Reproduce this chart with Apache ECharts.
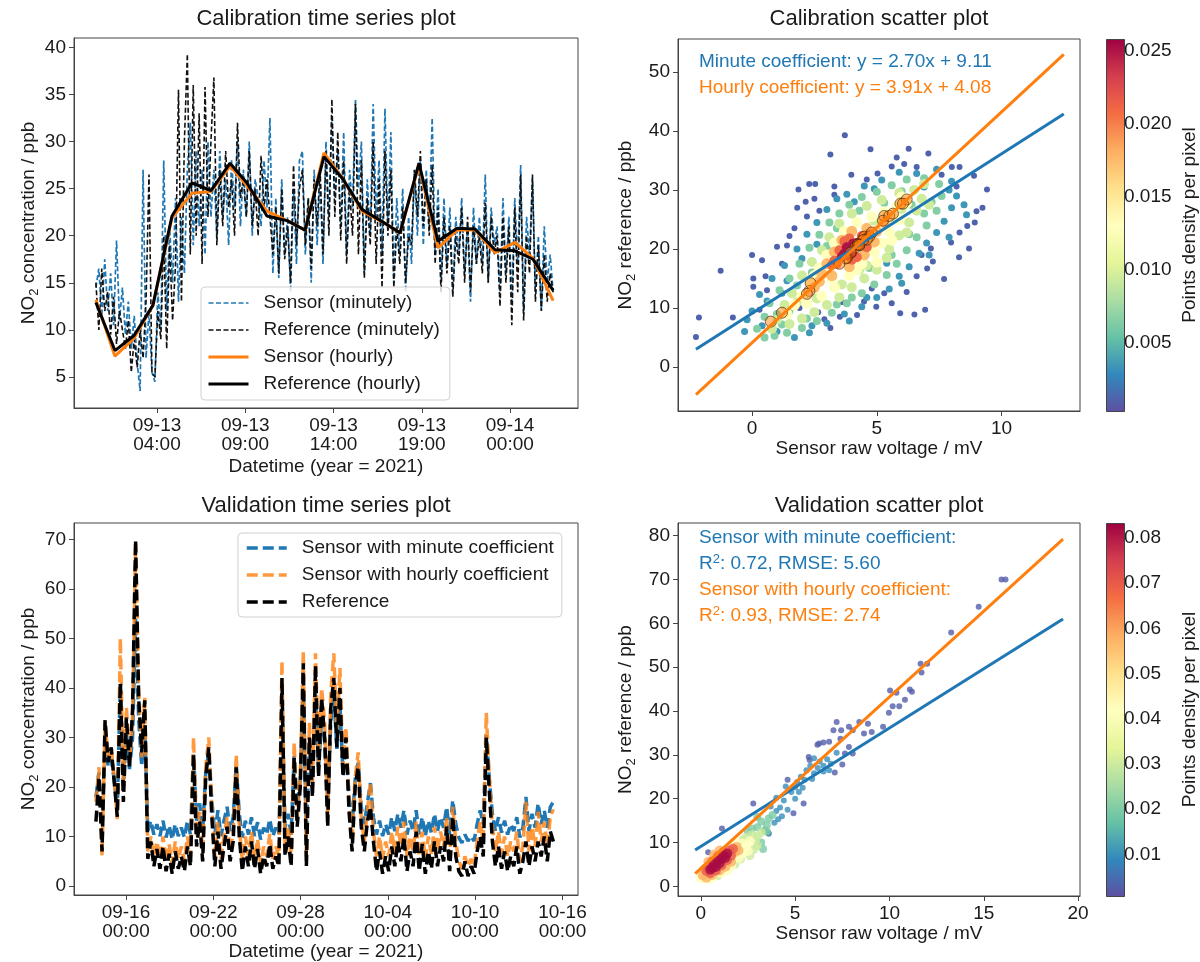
<!DOCTYPE html>
<html>
<head>
<meta charset="utf-8">
<script src="https://cdn.jsdelivr.net/npm/echarts@6.0.0/dist/echarts.min.js"></script>
<style>
  html, body { margin: 0; background: #fff; }
  #chart { width: 1200px; height: 962px; }
</style>
</head>
<body>
<div id="chart"></div>
<script>
// ---- calibration time series (hours since 09-13 00:00) ----
const calTickHours = [4, 9, 14, 19, 24]
const calTickLabels = ['09-13\n04:00', '09-13\n09:00', '09-13\n14:00', '09-13\n19:00', '09-14\n00:00']
const calMinStart = 0.54   // first 10-min sample
const calMinStep = 0.1671  // hours between samples
const calSensorMin = [
  14.5, 16.5, 11.5, 17.5, 12, 16, 10.5, 19.5, 11, 14.5,
  9.5, 13, 8, 11.5, 6.5, 3.5, 27, 7, 12, 5.5,
  4.5, 14, 10, 28, 12, 21, 15, 24, 13, 22,
  16, 27, 32, 19, 29, 21, 27, 18, 30, 22,
  27, 20, 29, 22, 26, 19, 28, 23, 30, 21,
  27, 22, 30, 20, 26, 24, 21, 28, 23, 32.5,
  16, 24, 15.5, 26, 18, 22, 14, 25, 17, 28,
  29, 18, 24, 15, 27, 19, 26, 17, 30, 22,
  32.5, 24, 29, 21, 31, 18, 27, 23, 34.5, 25,
  30, 16, 26, 20, 34, 22, 28, 18, 33.5, 21,
  31, 15, 24, 18, 25, 14, 22, 17, 27, 20,
  28, 19, 27, 21, 32.5, 18, 25, 15, 24, 17,
  23, 14, 22, 18, 24, 16, 21, 13, 23, 17,
  22, 17, 26.5, 15, 23, 19, 21, 14, 24, 16,
  22, 13, 24, 17, 27.5, 12, 22, 18, 26, 14,
  20, 12, 21, 15, 18, 14
]
const calRefMin = [
  15, 10, 16.5, 12, 14, 9.5, 13.5, 8.5, 12, 10,
  8, 11, 5.5, 9, 6, 10, 7, 13, 26.5, 5.5,
  5, 12, 9, 20, 8, 19, 11, 17, 35.5, 13,
  30, 39.3, 18, 36, 20, 33, 17, 35.8, 22, 30,
  36.8, 19, 27, 21, 29, 23, 26, 20, 32, 24,
  26, 22, 29, 21, 25, 20, 28.5, 23, 26, 22,
  18, 23, 16, 25, 17.5, 21, 15, 27.5, 19, 25,
  27, 19, 24, 16.5, 26, 21, 27, 18, 29, 20,
  34.5, 22, 31, 19.5, 28, 17, 25, 20, 34, 18,
  28, 15.5, 24, 19, 30, 17, 26, 14.5, 29, 20,
  27, 14.5, 21, 17, 23, 15, 20, 19, 27, 22,
  29, 21, 26, 20, 27.5, 17, 23, 14, 22, 16,
  21, 13.5, 20, 17, 23, 15, 22, 14, 21, 17,
  20, 16, 23.5, 15, 22, 18, 20, 12.5, 22, 15,
  21, 10.5, 23, 14, 26.5, 11, 20, 16, 26.5, 13,
  19, 12, 18, 13, 16, 14
]
const calHourX = [0.54, 1.62, 2.70, 3.77, 4.85, 5.98, 7.06, 8.14, 9.10, 10.23, 11.37, 12.39, 13.46,
  14.54, 15.61, 16.75, 17.77, 18.84, 19.92, 21.00, 22.02, 23.15, 24.28, 25.30, 26.44]
const calSensorHour = [13.2, 7.2, 9.1, 12.6, 21.9, 24.5, 24.7, 27.4, 25.3, 22.6, 21.6, 20.6, 28.8,
  26.0, 22.6, 21.5, 20.3, 27.5, 18.7, 20.6, 20.6, 18.2, 19.3, 17.6, 13.1]
const calRefHour = [12.9, 7.8, 9.4, 12.6, 22.1, 25.6, 24.8, 27.7, 25.6, 22.1, 21.6, 20.6, 28.4,
  26.0, 22.8, 21.5, 20.3, 27.7, 19.4, 20.8, 20.7, 18.5, 18.4, 17.5, 14.2]

// ---- calibration scatter: points grouped by density band ----
const calBandDensity = [0.0012, 0.0035, 0.0065, 0.0095, 0.013, 0.0175, 0.021, 0.025]
const calPurple = [[-2.25,5.1],[-2.13,8.4],[-1.26,16.3],[-0.77,8.4],[0.0,19.0],[0.05,13.6],[0.05,15.0],[0.4,18.1],
  [0.54,15.4],[1.0,20.4],[1.86,30.1],[2.29,31.0],[2.53,31.0],[2.5,28.5],[2.15,28.0],[1.81,27.0],[3.14,36.0],
  [3.72,39.3],[4.75,36.9],[6.28,37.0],[7.07,36.2],[6.1,34.4],[3.98,32.6],[5.03,32.8],[8.01,33.9],[8.32,33.9],
  [8.9,32.4],[9.42,30.1],[9.24,27.0],[8.93,24.5],[8.63,23.9],[8.32,22.8],[7.98,21.1],[8.7,20.1],[7.17,20.1],
  [7.25,17.9],[7.02,16.7],[6.94,9.7],[6.51,8.9],[5.94,9.1],[4.98,10.2],[4.49,11.1],[4.21,8.8],[3.52,8.5],
  [3.14,6.6],[2.65,9.3],[0.6,13.0],[1.4,20.6],[1.7,23.5],[2.2,25.5],[3.3,30.6],[4.6,31.8],[5.6,34.0],[6.6,33.9],
  [7.6,32.6],[8.2,30.6],[9.0,26.4],[8.3,18.6],[7.7,14.9],[6.6,15.4],[6.2,12.7],[5.6,10.8],[4.8,13.3],[3.6,11.0],
  [2.9,8.1],[1.9,10.0],[0.3,9.7],[1.2,17.5],[2.7,26.5],[5.8,35.5],[6.8,19.0],[5.3,12.5],[3.3,29.2],[1.5,22.2]]
const calBlue = [[-0.3,6.0],[0.0,9.5],[0.3,12.3],[0.8,15.0],[1.3,17.2],[1.8,20.0],[2.2,22.5],[2.6,24.5],[3.0,26.7],
  [3.4,28.5],[3.8,29.3],[4.5,30.7],[5.2,31.7],[5.9,33.0],[6.6,32.8],[7.4,33.5],[8.0,31.5],[8.2,29.0],[8.0,27.0],
  [7.7,24.7],[7.4,22.8],[7.0,21.0],[6.7,19.3],[6.3,17.0],[5.9,15.4],[5.5,13.2],[5.0,11.8],[4.4,10.2],[3.7,9.0],
  [3.0,7.4],[2.3,5.8],[1.7,5.0],[8.5,27.5],[8.6,25.8],[7.9,22.0],[2.6,20.8],[1.2,12.5],[-0.2,8.0],[1.0,6.0],
  [4.1,28.0],[6.9,30.5],[5.4,17.6],[0.4,7.0],[1.4,14.6],[2.0,18.4],[4.9,30.2],[7.9,30.0],[7.1,19.0],[6.0,14.2],
  [4.6,11.8],[3.9,7.8],[2.4,7.0],[0.6,11.2]]
const calTeal = [[0.2,6.5],[0.5,8.5],[0.7,10.8],[1.1,13.0],[1.5,15.0],[1.9,17.5],[2.3,20.2],[2.7,22.4],[3.1,24.5],
  [3.5,26.0],[3.9,27.5],[4.4,28.8],[5.0,29.7],[5.6,30.8],[6.2,31.8],[6.9,32.0],[7.5,31.0],[7.6,29.0],[7.4,26.5],
  [7.0,24.0],[6.6,22.0],[6.2,19.8],[5.8,17.5],[5.4,15.6],[4.9,14.0],[4.4,12.5],[3.8,10.8],[3.2,9.2],[2.6,7.8],
  [2.0,6.6],[1.4,5.8],[0.9,5.3],[0.5,5.0],[1.5,9.5],[2.1,11.5],[7.2,28.0],[6.4,27.5],[3.0,20.5],
  [1.0,9.0],[1.8,13.8],[2.4,16.0],[3.4,23.5],[4.3,26.5],[5.3,27.8],[6.0,29.8],[6.9,26.0],[6.3,22.5],[5.6,19.0],
  [4.7,16.8],[4.0,11.8],[3.4,10.6],[2.2,8.2],[1.2,7.2]]
const calGreen = [[1.0,8.0],[1.3,10.5],[1.6,12.5],[2.0,15.5],[2.4,17.8],[2.8,19.8],[3.1,22.0],[3.5,24.3],[4.0,26.0],
  [4.6,27.3],[5.2,28.3],[5.9,29.5],[6.5,30.0],[6.8,28.5],[6.6,26.5],[6.3,24.5],[5.9,22.3],[5.5,20.0],[5.0,16.5],
  [4.5,15.0],[4.0,13.5],[3.5,11.8],[3.0,10.5],[2.5,9.3],[2.0,8.2],[1.5,7.3],[0.8,6.5],[6.9,31.0],[7.1,27.5],
  [6.0,26.8],[5.6,25.5],[4.3,16.5],[1.8,11.0],[2.6,14.5],[3.2,18.5],[3.8,21.5],[4.9,24.8],[6.2,28.0],[6.2,22.8],
  [5.4,18.5],[4.6,17.2],[3.6,14.0],[2.6,11.6]]
const calYellow = [[2.0,12.0],[2.3,14.6],[2.7,16.8],[3.0,19.0],[3.3,21.0],[3.7,23.0],[4.2,24.5],[4.8,25.5],[5.3,26.3],
  [5.8,27.2],[5.9,25.0],[5.5,23.0],[5.2,21.0],[4.9,19.5],[4.4,17.5],[3.9,15.5],[3.3,13.5],[2.8,12.0],[2.2,10.8],
  [1.7,10.5],[6.2,27.8],[5.0,17.8],[1.4,9.0],[6.0,28.8],[2.5,15.5],[3.5,20.0],[4.5,22.0],[5.5,25.8],[4.2,16.5],
  [3.2,15.0],[5.6,21.5]]
const calOrange = [[2.8,15.8],[3.0,17.5],[3.3,19.5],[3.6,21.5],[4.0,23.0],[4.6,23.5],[5.0,23.0],[4.9,21.2],[4.5,19.0],
  [3.9,17.0],[3.2,15.5],[2.7,14.5],[5.3,24.5],[2.5,13.5]]
const calRed = [[3.3,18.0],[3.5,19.8],[4.5,21.6],[4.6,20.3],[3.4,17.5],[4.4,22.2],[3.7,21.3],[4.2,18.6],[3.2,17.3],
  [4.7,22.5],[3.9,21.8],[4.0,18.2]]
const calCore = [[3.7,19.2],[3.9,19.8],[4.1,20.4],[3.8,20.3],[4.0,19.3],[4.2,21.0],[3.6,18.7],[4.3,20.6],[3.85,18.9],[4.05,20.9]]
const calHourlyPts = [[2.3,12.9],[0.75,7.7],[1.2,9.2],[2.2,12.4],[4.5,22.1],[5.3,25.6],[5.25,24.8],[5.95,27.7],[5.5,25.6],
  [4.7,22.1],[4.6,21.6],[4.3,20.6],[6.2,28.4],[5.65,26.0],[4.8,22.8],[4.45,21.5],[4.15,20.3],[6.05,27.7],[3.95,19.4],
  [4.25,20.8],[4.3,20.7],[3.8,18.5],[3.75,18.4],[3.5,17.5],[2.35,14.2]]
const calMinuteLine = [[-2.25, 3.0], [12.5, 42.9]]
const calHourlyLine = [[-2.25, -4.7], [12.5, 53.0]]

// ---- validation time series (days since 09-16 00:00) ----
const valTickDays = [0, 6, 12, 18, 24, 30]
const valTickLabels = ['09-16\n00:00', '09-22\n00:00', '09-28\n00:00', '10-04\n00:00', '10-10\n00:00', '10-16\n00:00']
const valStart = -2.062
const valStep = 0.2096
const valMinuteCoef = [
  18, 22.9, 10.4, 29.1, 24.2, 25.6, 21.5, 15.6, 40.8, 20.1,
  31.1, 23.6, 29.8, 53.9, 33.9, 24.2, 32.5, 11.1, 13.2, 10.4,
  12.5, 10.1, 13.2, 9.8, 12.2, 9.4, 12.5, 10.1, 11.8, 9.8,
  13.2, 10.4, 27, 13.2, 16.7, 11.1, 22.9, 27, 17.3, 10.4,
  15.3, 10.1, 13.2, 16, 11.1, 13.9, 24.6, 14.6, 9.8, 13.2,
  10.4, 13.9, 10.1, 12.9, 9.4, 11.8, 10.4, 13.5, 10.1, 11.8,
  10.4, 37.7, 11.8, 14.6, 10.4, 26.3, 16, 21.5, 39.1, 10.4,
  29.1, 20.1, 38.7, 23.6, 33.9, 29.1, 16, 33.2, 38.7, 27.7,
  36.7, 22.9, 28.4, 18, 12.5, 21.5, 24.9, 16, 12.5, 16.7,
  20.8, 13.9, 10.4, 13.2, 10.1, 12.5, 10.4, 13.9, 11.1, 14.6,
  11.8, 15.3, 10.4, 13.2, 11.1, 15.3, 10.4, 13.9, 10.1, 13.2,
  10.8, 14.6, 11.1, 13.9, 11.8, 16, 10.4, 17.3, 12.5, 9.8,
  8.7, 10.4, 9.1, 10.1, 9.1, 12.5, 15.3, 12.5, 30.5, 21.5,
  14.6, 11.1, 13.9, 10.8, 13.2, 10.4, 12.5, 11.1, 13.9, 9.8,
  11.8, 18, 11.1, 14.6, 11.8, 16.7, 12.5, 15.3, 11.8, 16,
  17
]
const valHourlyCoef = [
  17, 24, 6, 33, 26, 28, 22, 13.5, 50, 20,
  36, 25, 34, 69, 40, 26, 38, 7, 10, 6,
  9, 5.5, 10, 5, 8.5, 4.5, 9, 5.5, 8, 5,
  10, 6, 30, 10, 15, 7, 24, 30, 16, 6,
  13, 5.5, 10, 14, 7, 11, 26.5, 12, 5, 10,
  6, 11, 5.5, 9.5, 4.5, 8, 6, 10.5, 5.5, 8,
  6, 45.5, 8, 12, 6, 29, 14, 22, 47.5, 6,
  33, 20, 47, 25, 40, 33, 14, 39, 47, 31,
  44, 24, 32, 17, 9, 22, 27, 14, 9, 15,
  21, 11, 6, 10, 5.5, 9, 6, 11, 7, 12,
  8, 13, 6, 10, 7, 13, 6, 11, 5.5, 10,
  6.5, 12, 7, 11, 8, 14, 6, 16, 9, 5,
  3.5, 6, 4, 5.5, 4, 9, 13, 9, 35, 22,
  12, 7, 11, 6.5, 10, 6, 9, 7, 11, 5,
  8, 17, 7, 12, 8, 15, 9, 13, 8, 14,
  15.5
]
const valRef = [
  13, 22, 7, 33.5, 25, 28, 21, 14, 41, 17,
  34, 24, 35.5, 69.8, 38, 27, 37.5, 5.5, 9, 4,
  7.5, 3.5, 8, 3, 6.5, 2.5, 7, 3.5, 6, 3,
  8, 4, 26.5, 8, 13, 5, 22, 28, 14, 4,
  11, 3.5, 8, 12, 5, 9, 24, 10, 3, 8,
  4, 9, 3.5, 7.5, 2.5, 6, 4, 8.5, 3.5, 6,
  4, 42, 6, 10, 4, 26, 12, 20, 45, 4,
  30, 18, 44.5, 22, 38, 30, 12, 36, 42, 28,
  40, 22, 30, 15, 7, 20, 24, 12, 7, 13,
  16, 9, 3, 7, 2.5, 6, 3, 8, 4, 9,
  5, 10, 3, 7, 4, 11, 3, 8.5, 2.5, 7,
  3.5, 9, 4, 8, 5, 12, 3, 14, 6, 3,
  2, 5, 2, 4, 2.5, 7, 10, 6, 30, 19,
  9, 4, 8, 3.5, 7, 3, 6, 4, 8, 2.5,
  5, 9, 4, 8, 5, 9, 6, 10, 5, 11,
  9
]

// ---- validation scatter: points grouped by density band ----
const valBandDensity = [0.003, 0.01, 0.02, 0.03, 0.042, 0.058, 0.07, 0.082]
const valPurple = [[15.94,70.0],[16.15,70.0],[14.73,63.8],[13.27,57.9],[11.7,48.8],[11.65,50.8],[12.0,50.8],[10.03,44.7],
  [10.37,44.2],[11.08,44.9],[11.19,44.4],[10.82,42.6],[9.97,39.6],[10.17,41.1],[10.52,41.1],[9.66,36.4],[8.86,37.1],
  [9.06,35.2],[8.65,34.9],[7.85,36.4],[8.05,35.6],[7.44,35.6],[7.03,35.6],[7.4,33.7],[7.85,31.8],[8.05,30.3],
  [7.64,30.3],[6.27,32.6],[6.18,32.3],[5.72,29.5],[5.77,28.8],[5.45,18.9],[4.91,16.7],[3.39,12.8],[3.59,12.2],
  [2.78,18.9],[1.12,13.2],[0.39,7.8],[7.2,37.5],[8.4,37.5],[6.8,33.0],[6.5,32.8],[4.6,24.3],[7.1,26.0],[7.5,27.8]]
const valBlue = [[3.9,14.5],[4.0,17.2],[4.2,18.0],[4.4,19.6],[4.0,20.2],[4.6,17.5],[4.8,21.5],[5.0,22.6],[5.1,23.8],
  [5.3,25.0],[5.5,24.3],[5.6,26.5],[5.8,27.5],[6.0,25.8],[6.2,27.0],[6.3,28.5],[6.5,27.5],[6.7,29.0],[6.5,26.2],
  [6.9,28.0],[4.3,16.0],[3.7,18.2],[4.5,22.8],[5.2,21.5],[5.9,24.5],[3.6,12.0],[4.1,15.3],[6.0,29.2],[6.8,26.5],
  [5.4,22.5],[7.2,30.5],[5.0,20.0]]
const valTeal = [[3.2,10.0],[3.4,12.8],[3.5,14.0],[3.2,14.8],[3.0,13.5],[2.7,13.2],[3.6,15.5],[3.3,8.5],[3.8,16.3],
  [2.5,12.5],[3.5,12.5],[3.0,15.8]]
const valGreen = [[2.8,8.4],[2.9,10.5],[3.0,11.5],[2.7,11.8],[2.4,11.2],[2.1,6.2],[1.8,5.0],[2.6,7.0],[3.2,12.3],
  [0.9,2.4],[3.0,9.3],[2.2,10.5]]
const valYellow = [[0.0,1.8],[0.2,1.9],[0.6,2.1],[1.1,3.0],[1.6,4.6],[2.0,6.4],[2.2,7.5],[2.4,9.0],[2.2,9.8],[1.8,10.2],
  [2.6,10.3],[0.0,3.0],[0.4,1.6],[1.4,3.6],[2.5,8.0],[1.9,8.0]]
const valOrange = [[0.1,2.5],[0.2,3.9],[0.4,5.6],[0.7,7.2],[1.0,8.2],[1.8,7.8],[1.9,9.0],[1.6,5.6],[1.3,4.5],[1.0,3.6],
  [0.6,2.6],[0.3,2.0],[2.0,8.2]]
const valRed = [[0.3,3.5],[0.4,4.5],[0.6,5.6],[0.9,6.8],[1.2,7.8],[1.5,8.2],[1.6,7.0],[1.4,6.0],[1.1,4.8],[0.8,3.6],
  [0.5,3.0],[1.7,8.6]]
const valCore = [[0.7,5.0],[0.9,5.8],[1.1,6.3],[0.8,4.4],[1.2,7.0],[1.0,5.3],[0.6,4.2],[1.3,6.5],[1.4,7.5],[0.5,3.8]]
const valMinuteLine = [[-0.3, 8.3], [19.2, 61.0]]
const valHourlyLine = [[-0.3, 2.9], [19.2, 79.2]]

// ---- styling ----
const FONT = '"Liberation Sans", Arial, sans-serif'
const TXT = '#1a1a1a'
const AX = '#444'
const BLUE = '#1f77b4'
const ORANGE = '#ff7f0e'
const SPECTRAL_R = ['#5e4fa2', '#3288bd', '#66c2a5', '#abdda4', '#e6f598', '#ffffbf',
  '#fee08b', '#fdae61', '#f46d43', '#d53e4f', '#9e0142']
const calBandSize = [6, 7, 8, 10, 11, 11, 10, 10]
const valBandSize = [6, 6, 8, 9, 10, 10, 10, 10]

const nameRich = {
  sub: { fontSize: 13, fontFamily: FONT, color: TXT, padding: [11, 0, 0, 0] }
}

const axis = (gridIndex, min, max, ticks, fmt, extra) => Object.assign({
  type: 'value', gridIndex, min, max,
  splitLine: { show: false },
  axisLine: { show: true, onZero: false, lineStyle: { color: AX, width: 1 } },
  axisTick: { show: true, customValues: ticks, length: 5, lineStyle: { color: AX } },
  axisLabel: { customValues: ticks, formatter: fmt, fontSize: 19, color: TXT, fontFamily: FONT, margin: 8 },
  nameLocation: 'middle',
  nameTextStyle: { fontSize: 19, color: TXT, fontFamily: FONT, rich: nameRich }
}, extra)

const range = (a, b, s) => { const r = []; for (let v = a; v <= b + 1e-9; v += s) r.push(+v.toFixed(4)); return r }

const bands = (lists, dens) => lists.flatMap((pts, k) => pts.map(p => [p[0], p[1], dens[k]]))
const calBands = [calPurple, calBlue, calTeal, calGreen, calYellow, calOrange, calRed, calCore]
const valBands = [valPurple, valBlue, valTeal, valGreen, valYellow, valOrange, valRed, valCore]

const bandSize = (dens, sizes) => (v) => sizes[dens.indexOf(v[2])]

const gradient = {
  type: 'linear', x: 0, y: 1, x2: 0, y2: 0,
  colorStops: SPECTRAL_R.map((c, i) => ({ offset: i / (SPECTRAL_R.length - 1), color: c }))
}

const titleStyle = { fontSize: 22, fontWeight: 'normal', color: TXT, fontFamily: FONT }
const noteStyle = (color) => ({ fontSize: 19, fontWeight: 'normal', color, fontFamily: FONT, lineHeight: 22,
  rich: { sup: { fontSize: 13, color, fontFamily: FONT, padding: [0, 0, 9, 0] } } })

const legendBase = {
  orient: 'vertical', itemWidth: 40, itemHeight: 14, itemGap: 5,
  backgroundColor: 'rgba(255,255,255,0.8)', borderColor: '#d0d0d0', borderWidth: 1, borderRadius: 4,
  itemStyle: { opacity: 0 },
  textStyle: { fontSize: 19, color: TXT, fontFamily: FONT, lineHeight: 22, padding: [0, 0, 0, 10] }
}

const option = {
  animation: false,
  backgroundColor: '#fff',
  title: [
    { text: 'Calibration time series plot', left: 326, top: 8, textAlign: 'center', padding: 0, textStyle: titleStyle },
    { text: 'Calibration scatter plot', left: 879, top: 8, textAlign: 'center', padding: 0, textStyle: titleStyle },
    { text: 'Validation time series plot', left: 326, top: 495, textAlign: 'center', padding: 0, textStyle: titleStyle },
    { text: 'Validation scatter plot', left: 879, top: 495, textAlign: 'center', padding: 0, textStyle: titleStyle },
    { text: 'Minute coefficient: y = 2.70x + 9.11', left: 699, top: 51, padding: 0, textStyle: noteStyle(BLUE) },
    { text: 'Hourly coefficient: y = 3.91x + 4.08', left: 699, top: 77, padding: 0, textStyle: noteStyle(ORANGE) },
    { text: 'Sensor with minute coefficient:', left: 699, top: 527, padding: 0, textStyle: noteStyle(BLUE) },
    { text: 'R{sup|2}: 0.72, RMSE: 5.60', left: 699, top: 553, padding: 0, textStyle: noteStyle(BLUE) },
    { text: 'Sensor with hourly coefficient:', left: 699, top: 579, padding: 0, textStyle: noteStyle(ORANGE) },
    { text: 'R{sup|2}: 0.93, RMSE: 2.74', left: 699, top: 605, padding: 0, textStyle: noteStyle(ORANGE) }
  ],
  grid: [
    { left: 74, top: 38, width: 504, height: 370, show: true, borderColor: AX, borderWidth: 1 },
    { left: 678, top: 39, width: 402, height: 372, show: true, borderColor: AX, borderWidth: 1 },
    { left: 74, top: 523, width: 504, height: 372, show: true, borderColor: AX, borderWidth: 1 },
    { left: 678, top: 523, width: 402, height: 373, show: true, borderColor: AX, borderWidth: 1 },
    { left: 1106, top: 39, width: 18, height: 372 },
    { left: 1106, top: 523, width: 18, height: 373 }
  ],
  xAxis: [
    axis(0, -0.70, 27.85, calTickHours, (v) => calTickLabels[calTickHours.indexOf(v)],
      { name: 'Datetime (year = 2021)', nameGap: 49 }),
    axis(1, -2.97, 13.15, [0, 5, 10], null, { name: 'Sensor raw voltage / mV', nameGap: 28 }),
    axis(2, -3.57, 31.07, valTickDays, (v) => valTickLabels[valTickDays.indexOf(v)],
      { name: 'Datetime (year = 2021)', nameGap: 47 }),
    axis(3, -1.21, 20.1, [0, 5, 10, 15, 20], null, { name: 'Sensor raw voltage / mV', nameGap: 27 }),
    { type: 'value', gridIndex: 4, min: 0, max: 1, show: false },
    { type: 'value', gridIndex: 5, min: 0, max: 1, show: false }
  ],
  yAxis: [
    axis(0, 1.7, 41.0, range(5, 40, 5), null, { name: 'NO{sub|2} concentration / ppb', nameGap: 32, nameRotate: 90 }),
    axis(1, -7.46, 55.6, range(0, 50, 10), null, { name: 'NO{sub|2} reference / ppb', nameGap: 40, nameRotate: 90 }),
    axis(2, -1.8, 73.3, range(0, 70, 10), null, { name: 'NO{sub|2} concentration / ppb', nameGap: 32, nameRotate: 90 }),
    axis(3, -2.2, 82.9, range(0, 80, 10), null, { name: 'NO{sub|2} reference / ppb', nameGap: 40, nameRotate: 90 }),
    axis(4, 0.0003, 0.0258, range(0.005, 0.025, 0.005), (v) => v.toFixed(3),
      { position: 'right', axisLine: { show: false }, name: 'Points density per pixel', nameGap: 64, nameRotate: 90 }),
    axis(5, 0.00077, 0.0833, range(0.01, 0.08, 0.01), (v) => v.toFixed(2),
      { position: 'right', axisLine: { show: false }, name: 'Points density per pixel', nameGap: 64, nameRotate: 90 })
  ],
  visualMap: [
    { type: 'continuous', show: false, seriesIndex: 4, dimension: 2, min: 0.0003, max: 0.0258, inRange: { color: SPECTRAL_R } },
    { type: 'continuous', show: false, seriesIndex: 11, dimension: 2, min: 0.00077, max: 0.0833, inRange: { color: SPECTRAL_R } }
  ],
  legend: [
    Object.assign({}, legendBase, {
      left: 201, top: 287, padding: [5, 10, 5, 6],
      data: [
        { name: 'Sensor (minutely)', lineStyle: { width: 1.5 } },
        { name: 'Reference (minutely)', lineStyle: { width: 1.5 } },
        { name: 'Sensor (hourly)', lineStyle: { width: 3 } },
        { name: 'Reference (hourly)', lineStyle: { width: 3 } }
      ]
    }),
    Object.assign({}, legendBase, {
      left: 238, top: 533, padding: [4, 8, 4, 7],
      data: [
        { name: 'Sensor with minute coefficient', lineStyle: { width: 3.5 } },
        { name: 'Sensor with hourly coefficient', lineStyle: { width: 3.5 } },
        { name: 'Reference', lineStyle: { width: 3.5 } }
      ]
    })
  ],
  graphic: [
    { type: 'rect', left: 1106, top: 39, shape: { width: 18, height: 372 }, style: { fill: gradient, stroke: AX, lineWidth: 1 }, z: 10 },
    { type: 'rect', left: 1106, top: 523, shape: { width: 18, height: 373 }, style: { fill: gradient, stroke: AX, lineWidth: 1 }, z: 10 }
  ],
  series: [
    // 0-3 calibration time series
    { name: 'Sensor (minutely)', type: 'line', xAxisIndex: 0, yAxisIndex: 0, symbol: 'none', color: BLUE,
      data: calSensorMin.map((v, i) => [calMinStart + i * calMinStep, v]),
      lineStyle: { color: BLUE, width: 1.7, type: [5, 2.5] } },
    { name: 'Reference (minutely)', type: 'line', xAxisIndex: 0, yAxisIndex: 0, symbol: 'none', color: '#111',
      data: calRefMin.map((v, i) => [calMinStart + i * calMinStep, v]),
      lineStyle: { color: '#111', width: 1.6, type: [5, 2.5] } },
    { name: 'Sensor (hourly)', type: 'line', xAxisIndex: 0, yAxisIndex: 0, symbol: 'none', color: ORANGE,
      data: calHourX.map((h, i) => [h, calSensorHour[i]]), lineStyle: { color: ORANGE, width: 3 } },
    { name: 'Reference (hourly)', type: 'line', xAxisIndex: 0, yAxisIndex: 0, symbol: 'none', color: '#000',
      data: calHourX.map((h, i) => [h, calRefHour[i]]), lineStyle: { color: '#000', width: 3 } },
    // 4-7 calibration scatter
    { type: 'scatter', xAxisIndex: 1, yAxisIndex: 1, data: bands(calBands, calBandDensity),
      symbolSize: bandSize(calBandDensity, calBandSize), itemStyle: { opacity: 1 } },
    { type: 'line', xAxisIndex: 1, yAxisIndex: 1, symbol: 'none', data: calMinuteLine, lineStyle: { color: BLUE, width: 3 } },
    { type: 'line', xAxisIndex: 1, yAxisIndex: 1, symbol: 'none', data: calHourlyLine, lineStyle: { color: ORANGE, width: 3 } },
    { type: 'scatter', xAxisIndex: 1, yAxisIndex: 1, data: calHourlyPts, symbolSize: 11,
      itemStyle: { color: 'rgba(255,127,14,0.6)', borderColor: 'rgba(60,30,0,0.8)', borderWidth: 1 } },
    // 8-10 validation time series
    { name: 'Sensor with minute coefficient', type: 'line', xAxisIndex: 2, yAxisIndex: 2, symbol: 'none', color: BLUE,
      data: valMinuteCoef.map((v, i) => [valStart + i * valStep, v]),
      lineStyle: { color: BLUE, width: 3.5, type: [11, 5] } },
    { name: 'Sensor with hourly coefficient', type: 'line', xAxisIndex: 2, yAxisIndex: 2, symbol: 'none', color: 'rgba(255,127,14,0.8)',
      data: valHourlyCoef.map((v, i) => [valStart + i * valStep, v]),
      lineStyle: { color: 'rgba(255,127,14,0.8)', width: 3.5, type: [11, 5] } },
    { name: 'Reference', type: 'line', xAxisIndex: 2, yAxisIndex: 2, symbol: 'none', color: '#000',
      data: valRef.map((v, i) => [valStart + i * valStep, v]),
      lineStyle: { color: '#000', width: 3.5, type: [11, 5] } },
    // 11-13 validation scatter
    { type: 'scatter', xAxisIndex: 3, yAxisIndex: 3, data: bands(valBands, valBandDensity),
      symbolSize: bandSize(valBandDensity, valBandSize) },
    { type: 'line', xAxisIndex: 3, yAxisIndex: 3, symbol: 'none', data: valMinuteLine, lineStyle: { color: BLUE, width: 3 } },
    { type: 'line', xAxisIndex: 3, yAxisIndex: 3, symbol: 'none', data: valHourlyLine, lineStyle: { color: ORANGE, width: 3 } },
    // 14-15 empty series so the colorbar axes render
    { type: 'scatter', xAxisIndex: 4, yAxisIndex: 4, data: [] },
    { type: 'scatter', xAxisIndex: 5, yAxisIndex: 5, data: [] }
  ]
}

const chart = echarts.init(document.getElementById('chart'), null, { renderer: 'canvas' })
chart.setOption(option)
window.addEventListener('resize', () => chart.resize())
</script>
</body>
</html>
